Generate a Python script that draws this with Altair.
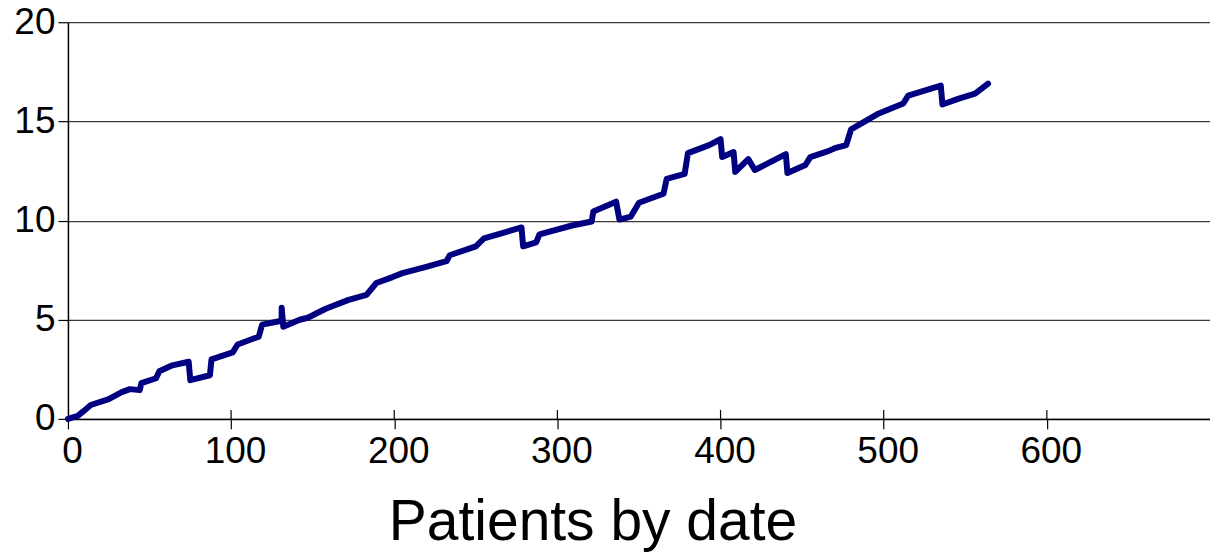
import altair as alt
import pandas as pd

# Cumulative outcome curve, one vertex per change of level
patients = [0, 6, 9, 14, 25, 33, 38, 44, 45, 54, 56, 64, 74, 75, 87, 88, 101, 104,
            117, 119, 128, 131, 131, 132, 142, 147, 158, 172, 183, 189, 199, 205,
            219, 232, 234, 250, 255, 278, 279, 287, 289, 309, 321, 322, 336, 338,
            345, 350, 365, 367, 378, 380, 393, 400, 401, 408, 409, 417, 421, 440,
            441, 452, 455, 466, 470, 477, 480, 497, 512, 515, 535, 536, 546, 556, 564]
values = [0.0, 0.15, 0.35, 0.7, 1.0, 1.35, 1.5, 1.45, 1.8, 2.05, 2.4, 2.7, 2.88, 1.95,
          2.2, 3.0, 3.35, 3.75, 4.15, 4.75, 4.9, 4.95, 5.6, 4.65, 5.0, 5.1, 5.55, 6.0,
          6.25, 6.85, 7.15, 7.35, 7.65, 7.95, 8.25, 8.7, 9.1, 9.65, 8.7, 8.9, 9.3,
          9.75, 9.95, 10.45, 10.95, 10.05, 10.2, 10.9, 11.35, 12.1, 12.35, 13.4, 13.8,
          14.1, 13.2, 13.45, 12.45, 13.1, 12.55, 13.35, 12.4, 12.8, 13.2, 13.5, 13.65,
          13.8, 14.6, 15.4, 15.9, 16.3, 16.8, 15.85, 16.15, 16.4, 16.9]

x_ticks = [0, 100, 200, 300, 400, 500, 600]
y_ticks = [0, 5, 10, 15, 20]

W, H = 1143, 397
FONT = "Liberation Sans"

df = pd.DataFrame({"idx": range(len(patients)), "patient": patients, "value": values})
ticks_df = pd.DataFrame({"t": x_ticks[1:]})

x_scale = alt.Scale(domain=[0, 700], nice=False, zero=False)
y_scale = alt.Scale(domain=[0, 20], nice=False)

line = alt.Chart(df).mark_line(
    color="#000080", strokeWidth=6, strokeCap="round", strokeJoin="round"
).encode(
    x=alt.X("patient:Q", scale=x_scale,
            axis=alt.Axis(values=x_ticks, grid=False, tickSize=10, tickColor="black",
                          tickWidth=1.2, domainColor="black", domainWidth=1.5,
                          labelFont=FONT, labelFontSize=37, labelColor="black",
                          labelPadding=5, labelOffset=4, labelFlush=False,
                          title="Patients by date", titleFont=FONT, titleFontSize=57,
                          titleFontWeight="normal", titleColor="black",
                          titleX=525, titleY=121, titleAlign="center",
                          titleBaseline="alphabetic")),
    y=alt.Y("value:Q", scale=y_scale,
            axis=alt.Axis(values=y_ticks, grid=True, gridColor="#3a3a3a", gridWidth=1.2,
                          tickSize=10, tickColor="black", tickWidth=1.2,
                          domainColor="black", domainWidth=1.5,
                          labelFont=FONT, labelFontSize=37, labelColor="black",
                          labelPadding=3, labelFlush=False, title=None)),
    order=alt.Order("idx:Q"),
)

# inner half of the x-axis ticks, crossing the axis line
inner_ticks = alt.Chart(ticks_df).mark_rule(color="black", strokeWidth=1.2).encode(
    x=alt.X("t:Q", scale=x_scale),
    y=alt.value(H),
    y2=alt.value(H - 9),
)

chart = alt.layer(inner_ticks, line).properties(
    width=W, height=H,
    autosize=alt.AutoSizeParams(type="none"),
    padding={"left": 68, "top": 22, "right": 0, "bottom": 134},
    background="white",
).configure_view(stroke=None)

chart.save("out.html", embed_options={"renderer": "svg", "actions": False})
